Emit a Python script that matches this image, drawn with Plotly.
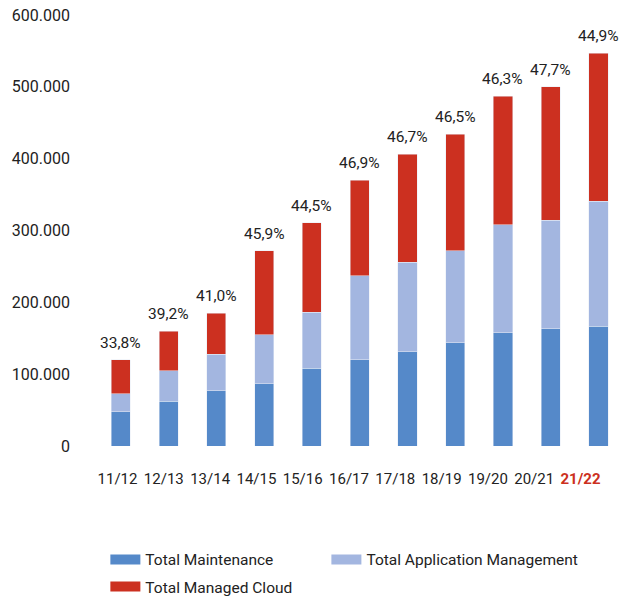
import plotly.graph_objects as go

categories = ["11/12", "12/13", "13/14", "14/15", "15/16", "16/17", "17/18", "18/19", "19/20", "20/21", "21/22"]
maintenance = [48000, 62000, 77000, 87000, 108000, 120000, 131000, 144000, 158000, 163000, 167000]
app_mgmt = [25000, 43000, 51000, 68000, 78000, 117000, 125000, 128000, 150000, 151000, 174000]
managed_cloud = [47000, 55000, 57000, 117000, 125000, 133000, 150000, 162000, 179000, 186000, 206000]
pct_labels = ["33,8%", "39,2%", "41,0%", "45,9%", "44,5%", "46,9%", "46,7%", "46,5%", "46,3%", "47,7%", "44,9%"]
y_ticks = [0, 100000, 200000, 300000, 400000, 500000, 600000]
y_tick_labels = ["0", "100.000", "200.000", "300.000", "400.000", "500.000", "600.000"]

BLUE = "#5589C9"
LIGHT = "#A3B6E0"
RED = "#CC3020"
TEXT = "#222222"
FONT = "Roboto"

tick_text = categories[:-1] + [f"<b><span style='color:{RED}'>{categories[-1]}</span></b>"]
tick_pos = list(range(len(categories)))

series = [
    ("Total Maintenance", maintenance, BLUE, "legend", 1),
    ("Total Application Management", app_mgmt, LIGHT, "legend2", 1),
    ("Total Managed Cloud", managed_cloud, RED, "legend", 2),
]

fig = go.Figure()
for name, vals, col, leg, rank in series:
    fig.add_bar(x=categories, y=vals, name=name, marker_color=col, showlegend=False,
                legendgroup=name)
# legend-only entries (wide swatches)
for name, vals, col, leg, rank in series:
    fig.add_scatter(x=[None], y=[None], mode="lines", name=name, legendgroup=name,
                    line=dict(color=col, width=18), legend=leg, legendrank=rank,
                    hoverinfo="skip")
# invisible helper trace so the label axis is drawn
fig.add_scatter(x=tick_pos, y=[0] * len(tick_pos), xaxis="x2", yaxis="y", mode="markers",
                marker=dict(opacity=0), showlegend=False, hoverinfo="skip")

totals = [a + b + c for a, b, c in zip(maintenance, app_mgmt, managed_cloud)]
for cat, tot, lab in zip(categories, totals, pct_labels):
    fig.add_annotation(x=cat, y=tot, text=lab, showarrow=False, yshift=17,
                       font=dict(family=FONT, size=15.5, color=TEXT))

fig.update_layout(
    width=620, height=600,
    barmode="stack", bargap=0.6,
    plot_bgcolor="white", paper_bgcolor="white",
    margin=dict(l=97, r=0, t=15, b=153.5, autoexpand=False),
    font=dict(family=FONT, size=15, color=TEXT),
    xaxis=dict(type="category", range=[-0.5, 10.45],
               showgrid=False, zeroline=False, showline=False, ticks="",
               showticklabels=False),
    xaxis2=dict(overlaying="x", anchor="y", side="bottom", range=[-0.4428, 10.853],
                tickmode="array", tickvals=tick_pos, ticktext=tick_text,
                showgrid=False, zeroline=False, showline=False, ticks="",
                tickfont=dict(size=15, color=TEXT), ticklabelstandoff=22,
                ticklabeloverflow="allow"),
    yaxis=dict(range=[0, 600000], tickvals=y_ticks, ticktext=y_tick_labels,
               showgrid=False, zeroline=False, showline=False, ticks="",
               tickfont=dict(size=16, color=TEXT), ticklabelstandoff=26,
               ticklabeloverflow="allow"),
    legend=dict(orientation="v", x=0.016, y=-0.2246, xanchor="left", yanchor="top",
                traceorder="grouped", tracegroupgap=4,
                font=dict(size=15.5, color=TEXT)),
    legend2=dict(orientation="v", x=0.4386, y=-0.2246, xanchor="left", yanchor="top",
                 font=dict(size=15.5, color=TEXT)),
)

fig.write_html("out.html", config={"displayModeBar": False},
               post_script="document.body.style.margin='0';")
